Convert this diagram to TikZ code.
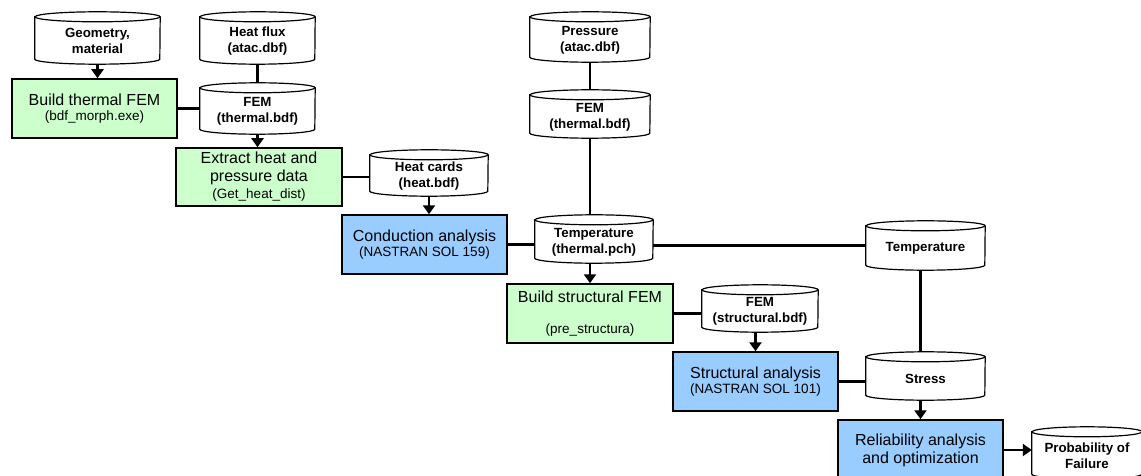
\documentclass[tikz,border=0pt]{standalone}
\usepackage{fontspec}
\setmainfont{Liberation Sans}
\usetikzlibrary{arrows.meta,backgrounds,calc}
\definecolor{boxgreen}{HTML}{CCFFCC}
\definecolor{boxblue}{HTML}{99CCFF}
\newcommand\mainfs{\fontsize{16}{18}\selectfont}
\newcommand\subfs{\fontsize{13.5}{15}\selectfont}
\newcommand\dbfs{\bfseries\fontsize{13.3}{16}\selectfont}
\tikzset{
 procbox/.style={draw=black, line width=1.5pt, inner sep=0pt, align=center, font=\mainfs},
 greenbox/.style={procbox, fill=boxgreen},
 bluebox/.style={procbox, fill=boxblue},
 dbshape/.style={inner sep=0pt},
 dbtext/.style={inner sep=0pt, align=center, font=\dbfs},
 dbline/.style={draw=black, line width=1.2pt, fill=white},
 link/.style={line width=2.7pt},
 flow/.style={line width=2.7pt, -{Triangle[length=9pt,width=12pt]}},
}
% cylinder (data store): name, cx, cy, width, height, text
\newcommand\dbcyl[6]{%
  \node[dbshape, minimum width=#4pt, minimum height=#5pt] (#1) at (#2,#3) {};
  \node[dbtext] (#1-t) at ([yshift=-3pt]#1.center) {#6};
  \begin{scope}[on background layer]
    \draw[dbline] ([yshift=-5pt]#1.north west) -- ([yshift=5pt]#1.south west)
      arc[start angle=180, end angle=360, x radius=#4pt/2, y radius=5pt]
      -- ([yshift=-5pt]#1.north east)
      arc[start angle=0, end angle=180, x radius=#4pt/2, y radius=5pt] -- cycle;
    \draw[dbline, fill=none] ([yshift=-5pt]#1.north west)
      arc[start angle=180, end angle=360, x radius=#4pt/2, y radius=5pt];
  \end{scope}}
\begin{document}
\begin{tikzpicture}[x=1pt, y=-1pt]
\useasboundingbox (0,0) rectangle (1141,476);
\clip (0,0) rectangle (1141,476);

% process boxes
\node[greenbox, minimum width=165pt, minimum height=59pt] (bth) at (94.5,108.5)
  {Build thermal FEM\\[-3pt]{\subfs (bdf\_morph.exe)}};
\node[greenbox, minimum width=166pt, minimum height=58pt] (ext) at (259,177)
  {Extract heat and\\pressure data\\[-1pt]{\subfs (Get\_heat\_dist)}};
\node[bluebox, minimum width=165pt, minimum height=59pt] (cond) at (424.5,244.5)
  {Conduction analysis\\[-3pt]{\subfs (NASTRAN SOL 159)}};
\node[greenbox, minimum width=166pt, minimum height=59pt] (bst) at (590,313.5)
  {Build structural FEM\\[13pt]{\subfs (pre\_structura)}};
\node[bluebox, minimum width=165pt, minimum height=59pt] (sta) at (755.5,381.5)
  {Structural analysis\\[-3pt]{\subfs (NASTRAN SOL 101)}};
\node[bluebox, minimum width=165pt, minimum height=60pt] (rel) at (920.5,450)
  {Reliability analysis\\and optimization};

% data stores
\dbcyl{geo}{97.5}{38}{125}{52}{Geometry,\\material}
\dbcyl{hflux}{257.5}{38}{115}{52}{Heat flux\\(atac.dbf)}
\dbcyl{fem1}{257.5}{108.5}{115}{51}{FEM\\(thermal.bdf)}
\dbcyl{heat}{429}{173}{118}{46}{Heat cards\\(heat.bdf)}
\dbcyl{press}{590}{37}{120}{50}{Pressure\\(atac.dbf)}
\dbcyl{fem2}{590}{114}{120}{48}{FEM\\(thermal.bdf)}
\dbcyl{tpch}{594}{239}{118}{48}{Temperature\\(thermal.pch)}
\dbcyl{temp}{925.5}{245.5}{119}{49}{Temperature}
\dbcyl{fems}{760}{308.5}{116}{47}{FEM\\(structural.bdf)}
\dbcyl{stress}{925.5}{376}{119}{48}{Stress}
\dbcyl{prob}{1087}{453}{110}{52}{Probability of\\Failure}

% connectors
\draw[flow] (geo.south) -- (geo.south |- bth.north);
\draw[link] (bth.east) -- (bth.east -| fem1.west);
\draw[link] (hflux.south) -- (fem1.north);
\draw[flow] (fem1.south) -- (fem1.south |- ext.north);
\draw[link] (ext.east) -- (ext.east -| heat.west);
\draw[flow] (heat.south) -- (heat.south |- cond.north);
\draw[link] (press.south) -- (fem2.north);
\draw[link] (fem2.south) -- (fem2.south |- tpch.north);
\draw[link] (cond.east) -- (cond.east -| tpch.west);
\draw[link] (temp.west -| tpch.east) -- (temp.west);
\draw[flow] (tpch.south -| bst.north) -- (bst.north);
\draw[link] (bst.east) -- (bst.east -| fems.west);
\draw[flow] (fems.south -| sta.north) -- (sta.north);
\draw[link] (sta.east) -- (sta.east -| stress.west);
\draw[link] (temp.south -| rel.north) -- (stress.north -| rel.north);
\draw[flow] (stress.south -| rel.north) -- (rel.north);
\draw[flow] (rel.east) -- (rel.east -| prob.west);
\end{tikzpicture}
\end{document}
